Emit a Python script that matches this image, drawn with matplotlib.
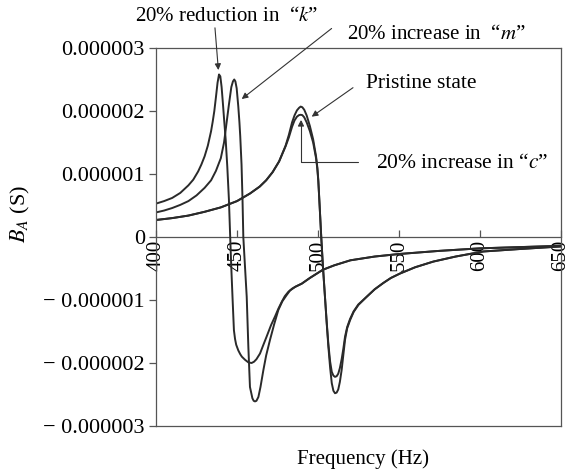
import numpy as np
import matplotlib
matplotlib.use("Agg")
import matplotlib.pyplot as plt

plt.rcParams['font.family'] = ['Liberation Serif', 'DejaVu Serif']
plt.rcParams['mathtext.fontset'] = 'stix'

# frecuencia (Hz) y susceptancia B_A (en 1e-6 S)
# 20% reduccion en k
f_k = [400, 405, 410, 415, 420, 423, 426, 428, 430, 432, 434, 435, 436, 437,
       438, 438.9, 439.7, 440.5, 441.3, 442, 443, 444, 445, 445.8, 446.5,
       447.3, 448.1, 448.8, 449.5, 450.8, 452, 453, 455, 457, 459, 460.5, 462,
       464.2, 466, 468.3, 471, 473.5, 475.5, 477.6, 479.5, 481.7, 484, 486,
       490, 495, 503, 510, 520, 535, 550, 575, 600, 625, 650]
v_k = [0.53, 0.57, 0.62, 0.70, 0.82, 0.91, 1.04, 1.15, 1.28, 1.45, 1.68, 1.83,
       2.00, 2.22, 2.45, 2.58, 2.55, 2.38, 2.12, 1.88, 1.55, 1.12, 0.60, 0.0,
       -0.50, -1.00, -1.48, -1.62, -1.71, -1.80, -1.86, -1.90, -1.95, -1.99,
       -2.00, -1.98, -1.94, -1.85, -1.73, -1.58, -1.40, -1.26, -1.14, -1.03,
       -0.94, -0.87, -0.82, -0.79, -0.74, -0.65, -0.52, -0.45, -0.37, -0.31,
       -0.27, -0.22, -0.18, -0.16, -0.14]

# 20% aumento en m
f_m = [400, 405, 410, 415, 420, 425, 430, 434, 437, 440, 442, 443.5, 445,
       446.5, 447.5, 448.3, 449, 449.8, 450.8, 451.5, 452, 452.8, 453.4, 453.9,
       455, 456, 457, 458, 459.5, 460.3, 461.1, 462, 463.2, 464.5, 466.3, 468,
       470.4, 473, 475.5, 478, 480.7, 482.7, 486, 490, 495, 503, 510, 520, 535,
       550, 575, 600, 625, 650]
v_m = [0.39, 0.42, 0.46, 0.51, 0.57, 0.66, 0.78, 0.90, 1.05, 1.25, 1.50, 1.80,
       2.10, 2.38, 2.47, 2.50, 2.47, 2.36, 2.07, 1.82, 1.60, 1.15, 0.60, 0.0,
       -0.50, -0.95, -1.74, -2.38, -2.56, -2.60, -2.61, -2.60, -2.54, -2.38,
       -2.11, -1.88, -1.63, -1.38, -1.16, -1.02, -0.92, -0.85, -0.79, -0.74,
       -0.65, -0.52, -0.45, -0.37, -0.31, -0.27, -0.22, -0.18, -0.16, -0.14]

# estado pristino
f_p = [400, 410, 420, 430, 440, 450, 458, 464, 468, 472, 476, 480, 482, 484,
       485.5, 487, 488.3, 489.3, 490.3, 491.5, 493, 495, 497, 498.8, 499.6,
       500.2, 501, 502, 503, 504.3, 505.4, 506.4, 507.5, 508.5, 509.5, 510.5,
       511.5, 512.5, 513.5, 514.6, 515.6, 516.7, 518, 519.8, 522, 524.9, 530,
       535, 540.3, 545, 550.6, 560, 571.2, 585, 602, 625, 650]
v_p = [0.27, 0.30, 0.34, 0.40, 0.47, 0.57, 0.69, 0.80, 0.90, 1.03, 1.20, 1.45,
       1.62, 1.82, 1.93, 2.01, 2.05, 2.07, 2.06, 2.02, 1.93, 1.76, 1.55, 1.28,
       1.10, 0.90, 0.50, 0.0, -0.45, -0.95, -1.38, -1.74, -2.08, -2.32, -2.44,
       -2.48, -2.47, -2.42, -2.30, -2.11, -1.88, -1.63, -1.45, -1.32, -1.19,
       -1.08, -0.95, -0.83, -0.73, -0.65, -0.58, -0.48, -0.39, -0.31, -0.23,
       -0.19, -0.15]

# 20% aumento en c
f_c = [400, 410, 420, 430, 440, 450, 458, 464, 468, 472, 476, 480, 482, 484,
       485.5, 487, 488.3, 489.3, 490.3, 491.5, 493, 495, 497, 498.8, 499.6,
       500.2, 501, 502, 503, 504.3, 505.4, 506.4, 507.5, 508.5, 509.5, 510.5,
       511.5, 512.5, 513.5, 514.6, 515.6, 516.7, 518, 519.8, 522, 524.9, 530,
       535, 540.3, 545, 550.6, 560, 571.2, 585, 602, 625, 650]
v_c = [0.27, 0.30, 0.34, 0.40, 0.47, 0.57, 0.69, 0.80, 0.90, 1.03, 1.20, 1.44,
       1.58, 1.75, 1.85, 1.91, 1.935, 1.94, 1.935, 1.90, 1.82, 1.68, 1.50, 1.25,
       1.08, 0.88, 0.50, 0.0, -0.45, -0.95, -1.36, -1.70, -1.98, -2.14, -2.20,
       -2.22, -2.21, -2.17, -2.08, -1.94, -1.78, -1.58, -1.43, -1.30, -1.18,
       -1.07, -0.95, -0.83, -0.73, -0.65, -0.58, -0.48, -0.39, -0.31, -0.23,
       -0.19, -0.15]

xticks = [400, 450, 500, 550, 600, 650]
yticks = [-3e-6, -2e-6, -1e-6, 0, 1e-6, 2e-6, 3e-6]
ylabels = ['\u2212 0.000003', '\u2212 0.000002', '\u2212 0.000001', '0',
           '0.000001', '0.000002', '0.000003']

fig = plt.figure(figsize=(5.66, 4.73), dpi=100)
ax = fig.add_axes([156/566, 47/473, 405/566, 378/473])

lc = '#2a2a2a'
for f, v in [(f_k, v_k), (f_m, v_m), (f_p, v_p), (f_c, v_c)]:
    ax.plot(f, np.array(v)*1e-6, color=lc, lw=1.4)

ax.set_xlim(400, 650)
ax.set_ylim(-3e-6, 3e-6)
ax.set_yticks(yticks)
ax.set_yticklabels(ylabels, fontsize=16)
ax.tick_params(axis='y', direction='out', length=5, width=0.9, color='#555', pad=3)
ax.tick_params(axis='x', bottom=False, labelbottom=False)
for s in ax.spines.values():
    s.set_color('#555')
    s.set_linewidth(0.9)

# eje x sobre la linea y=0
sec = ax.secondary_xaxis(0.5)
sec.set_alignment('bottom')
sec.set_xticks(xticks)
sec.set_xticklabels([str(t) for t in xticks], rotation=90, fontsize=15)
sec.tick_params(direction='in', length=5, width=0.9, color='#555', pad=2)
for s in sec.spines.values():
    s.set_color('#555')
    s.set_linewidth(0.9)

fig.text(363/566, 1 - 459/473, 'Frequency (Hz)', fontsize=15, ha='center', va='center')
fig.text(20/566, 1 - 214/473, '$B_A$ (S)', fontsize=16, ha='center', va='center', rotation=90)

ap = dict(arrowstyle='-|>', color='#333', lw=0.8, mutation_scale=9, shrinkA=0, shrinkB=0)
ax.text(443.8, 3.50e-6, '20% reduction in  \u201c$k$\u201d', ha='center', va='center', fontsize=15)
ax.annotate('', xy=(438.5, 2.65e-6), xytext=(436.4, 3.32e-6),
            arrowprops=ap, annotation_clip=False)
ax.annotate('', xy=(452.9, 2.19e-6), xytext=(508.4, 3.31e-6),
            arrowprops=ap, annotation_clip=False)
ax.text(573.1, 3.22e-6, '20% increase in  \u201c$m$\u201d', ha='center', va='center', fontsize=15)
ax.annotate('', xy=(496.1, 1.91e-6), xytext=(521.6, 2.37e-6), arrowprops=ap)
ax.text(563.9, 2.43e-6, 'Pristine state', ha='center', va='center', fontsize=15.5)
ax.annotate('', xy=(489.5, 1.86e-6), xytext=(524.7, 1.195e-6),
            arrowprops=dict(ap, connectionstyle='angle,angleA=0,angleB=90,rad=0'))
ax.text(588.9, 1.17e-6, '20% increase in \u201c$c$\u201d', ha='center', va='center', fontsize=15.5)

fig.savefig('out.png', dpi=100)
